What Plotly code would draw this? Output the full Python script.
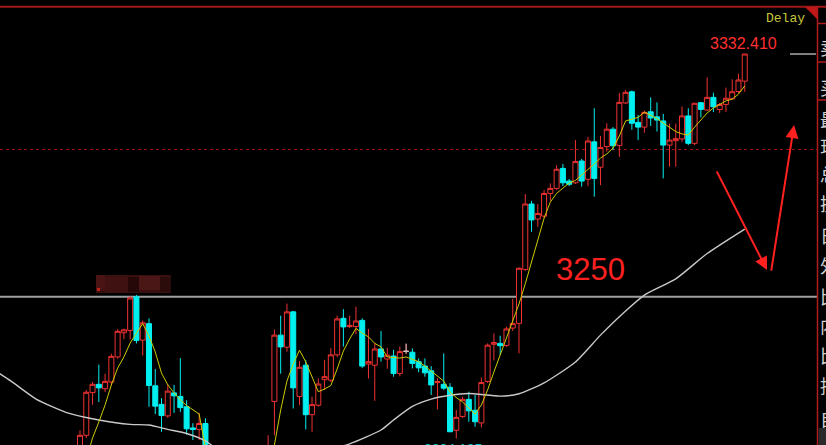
import plotly.graph_objects as go

# ---------------- data ----------------
bar_index = list(range(0, 21)) + list(range(30, 107))

open_ = [3197.3, 3203.0, 3217.5, 3220.3, 3218.8, 3221.1, 3229.6, 3237.8, 3238.6, 3250.0,
         3235.3, 3240.9, 3219.8, 3213.5, 3209.6, 3217.4, 3216.2, 3212.7, 3205.5, 3205.0,
         3207.0,
         3192.9, 3214.5, 3237.0, 3232.9, 3244.9, 3216.2, 3226.8, 3210.0, 3213.2, 3221.9,
         3221.7, 3230.3, 3242.7, 3239.9, 3239.9, 3242.0, 3227.2, 3226.8, 3232.3, 3228.9,
         3229.9, 3224.0, 3231.5, 3231.2, 3228.0, 3226.5, 3224.9, 3220.9, 3220.3, 3219.3,
         3204.7, 3209.4, 3215.2, 3211.5, 3207.2, 3221.3, 3233.9, 3234.2, 3233.5, 3239.4,
         3241.0, 3259.3, 3281.5, 3276.4, 3277.4, 3285.1, 3286.8, 3293.6, 3289.3, 3288.7,
         3296.1, 3289.9, 3302.6, 3294.0, 3301.0, 3306.9, 3301.4, 3315.8, 3319.6, 3309.2,
         3307.6, 3312.8, 3311.1, 3309.7, 3301.5, 3303.0, 3303.6, 3311.4, 3302.1, 3315.9,
         3313.4, 3317.7, 3313.6, 3315.3, 3317.2, 3319.7, 3323.2]
high = [3204.7, 3218.4, 3221.1, 3227.0, 3223.9, 3230.7, 3239.0, 3239.2, 3250.3, 3250.6,
        3242.0, 3242.7, 3225.5, 3215.6, 3220.4, 3220.1, 3229.2, 3214.9, 3207.1, 3210.6,
        3208.8,
        3203.0, 3238.9, 3243.6, 3247.7, 3245.2, 3228.2, 3228.6, 3216.1, 3222.3, 3228.6,
        3232.6, 3243.6, 3245.8, 3243.6, 3246.7, 3242.7, 3239.1, 3234.3, 3238.4, 3232.7,
        3232.0, 3233.1, 3234.1, 3232.5, 3229.1, 3229.1, 3226.5, 3222.4, 3230.8, 3220.7,
        3211.6, 3216.1, 3217.8, 3216.7, 3222.6, 3234.2, 3237.6, 3236.8, 3239.9, 3249.3,
        3260.0, 3284.9, 3282.6, 3281.5, 3286.3, 3288.5, 3294.7, 3295.1, 3290.0, 3303.2,
        3296.8, 3304.3, 3314.0, 3304.6, 3308.9, 3307.6, 3319.2, 3320.2, 3320.0, 3311.7,
        3313.2, 3317.7, 3316.0, 3312.1, 3308.8, 3308.8, 3314.6, 3314.0, 3315.8, 3316.1,
        3324.5, 3319.3, 3315.8, 3321.0, 3323.8, 3325.7, 3332.41]
low = [3196.3, 3202.1, 3213.4, 3214.3, 3217.7, 3220.0, 3229.0, 3235.6, 3235.6, 3234.2,
       3230.1, 3212.7, 3210.2, 3204.2, 3208.9, 3210.6, 3210.9, 3203.2, 3201.4, 3201.4,
       3196.3,
       3191.2, 3203.0, 3223.9, 3231.4, 3212.1, 3213.3, 3205.0, 3204.2, 3212.7, 3218.4,
       3221.1, 3229.6, 3233.1, 3239.4, 3237.4, 3225.8, 3222.3, 3214.7, 3228.0, 3225.6,
       3222.9, 3223.0, 3230.7, 3225.7, 3224.4, 3222.9, 3216.7, 3211.8, 3218.4, 3204.1,
       3201.9, 3208.9, 3207.6, 3205.9, 3205.7, 3220.8, 3228.4, 3230.3, 3233.0, 3238.4,
       3230.8, 3258.8, 3272.1, 3273.8, 3276.7, 3282.6, 3286.3, 3287.6, 3287.6, 3288.3,
       3287.4, 3287.6, 3284.0, 3287.9, 3299.3, 3299.8, 3297.5, 3315.4, 3306.7, 3303.2,
       3305.7, 3308.0, 3306.1, 3290.2, 3294.2, 3294.2, 3302.6, 3301.5, 3301.5, 3310.9,
       3313.2, 3312.7, 3312.4, 3312.8, 3316.8, 3319.2, 3319.6]
close = [3203.0, 3217.6, 3220.3, 3219.1, 3221.3, 3229.8, 3238.3, 3238.8, 3249.6, 3235.2,
         3241.2, 3219.9, 3212.9, 3209.7, 3218.0, 3216.4, 3212.4, 3205.2, 3205.0, 3207.0,
         3198.0,
         3198.7, 3237.0, 3233.0, 3244.9, 3219.1, 3226.1, 3210.0, 3213.4, 3220.4, 3222.9,
         3230.3, 3242.5, 3239.8, 3240.3, 3241.8, 3226.5, 3228.0, 3232.3, 3229.6, 3230.2,
         3224.0, 3231.4, 3231.5, 3227.4, 3225.9, 3224.2, 3220.1, 3221.2, 3219.0, 3204.2,
         3209.1, 3215.2, 3211.3, 3207.6, 3220.9, 3233.6, 3234.5, 3233.4, 3239.1, 3240.9,
         3259.7, 3281.5, 3276.1, 3278.3, 3285.1, 3286.8, 3293.3, 3288.7, 3288.2, 3295.9,
         3289.3, 3302.9, 3290.2, 3300.7, 3306.9, 3301.3, 3316.0, 3319.4, 3308.9, 3307.6,
         3312.6, 3310.7, 3310.0, 3301.5, 3303.2, 3303.7, 3311.4, 3302.1, 3315.7, 3313.6,
         3317.7, 3314.5, 3315.3, 3317.4, 3319.6, 3323.6, 3332.41]

# one flat (doji) bar drawn in grey
doji_index = [52]
doji_open = [3231.5]
doji_high = [3234.1]
doji_low = [3230.7]
doji_close = [3231.5]

# short moving average (yellow)
ma_short_index = list(range(1, 22)) + list(range(30, 107))
ma_short = [3194.6, 3202.1, 3207.5, 3213.3, 3220.1, 3225.8, 3229.6, 3234.3, 3237.7, 3240.9,
            3236.7, 3231.3, 3224.1, 3220.1, 3217.4, 3215.0, 3213.1, 3211.6, 3210.2, 3198.7,
            3193.0,
            3193.0, 3199.7, 3211.6, 3221.4, 3227.2, 3231.9, 3227.9, 3223.1, 3217.8, 3218.7,
            3219.9, 3225.5, 3231.6, 3235.7, 3239.3, 3237.7, 3236.4, 3234.2, 3233.0, 3229.6,
            3229.4, 3229.2, 3229.6, 3228.9, 3228.0, 3226.5, 3224.8, 3222.8, 3221.4, 3217.7,
            3215.8, 3214.3, 3212.3, 3210.2, 3213.3, 3218.4, 3224.5, 3230.3, 3236.0, 3241.5,
            3247.6, 3254.4, 3261.8, 3269.3, 3276.7, 3282.2, 3285.1, 3286.9, 3288.6, 3289.5,
            3291.3, 3293.4, 3295.1, 3297.1, 3298.5, 3300.5, 3304.6, 3309.7, 3310.2, 3310.9,
            3312.7, 3311.7, 3310.5, 3309.0, 3307.6, 3306.1, 3305.3, 3304.9, 3307.6, 3310.0,
            3312.4, 3314.1, 3315.4, 3316.5, 3317.1, 3318.8, 3321.6]

# long moving average (white), read at selected bars
ma_long_index = [-13, -11, -7, -2, 3, 8, 11, 14, 17, 20, 22, 30, 38, 43, 48, 50, 53, 56, 59,
                 62, 67, 70, 74, 79, 83, 87, 90, 95, 100, 106]
ma_long = [3224.2, 3221.4, 3215.3, 3210.6, 3208.2, 3206.7, 3206.5, 3205.0, 3203.6, 3201.1,
           3198.3, 3195.3, 3197.3, 3200.1, 3204.8, 3208.2, 3212.8, 3215.3, 3216.6,
           3217.2, 3216.3, 3217.1, 3220.8, 3227.9, 3237.0, 3245.2, 3250.6, 3256.1, 3264.7,
           3273.0]

last_price = 3332.41
low_price_label = "3204.125"
level_dashed = 3300
level_support = 3250
level_text = "3250"
side_labels = ["卖", "买", "最", "现", "总", "换", "日", "外", "比", "内", "比", "持", "自"]

# ---------------- layout geometry (pixels) ----------------
W, H = 826, 445
PL, PR, PT, PB = 0, 817, 8, 445          # plot area in page pixels
X_RANGE = [-12.757, 117.52]
Y_RANGE = [3199.71, 3348.03]


def px(X):
    return (X - PL) / (PR - PL)


def py(Y):
    return (PB - Y) / (PB - PT)


RED = "#f03232"
CYAN = "#00f0f0"

fig = go.Figure()

fig.add_trace(go.Candlestick(
    x=bar_index, open=open_, high=high, low=low, close=close,
    increasing=dict(line=dict(color=RED, width=1), fillcolor="#000000"),
    decreasing=dict(line=dict(color=CYAN, width=1), fillcolor=CYAN),
    whiskerwidth=0, showlegend=False, hoverinfo="skip"))

fig.add_trace(go.Candlestick(
    x=doji_index, open=doji_open, high=doji_high, low=doji_low, close=doji_close,
    increasing=dict(line=dict(color="#c8c8c8", width=1), fillcolor="#c8c8c8"),
    decreasing=dict(line=dict(color="#c8c8c8", width=1), fillcolor="#c8c8c8"),
    whiskerwidth=0, showlegend=False, hoverinfo="skip"))

fig.add_trace(go.Scatter(x=ma_long_index, y=ma_long, mode="lines",
                         line=dict(color="#c8c8c8", width=1.4, shape="spline", smoothing=0.6),
                         showlegend=False, hoverinfo="skip"))
fig.add_trace(go.Scatter(x=ma_short_index, y=ma_short, mode="lines",
                         line=dict(color="#cccc00", width=1),
                         showlegend=False, hoverinfo="skip"))

shapes = []
# horizontal levels
shapes.append(dict(type="line", xref="paper", yref="y", x0=0, x1=1, y0=level_dashed, y1=level_dashed,
                   line=dict(color="#990e0e", width=1.2, dash="3px,3px"), layer="below"))
shapes.append(dict(type="line", xref="paper", yref="y", x0=0, x1=1, y0=level_support, y1=level_support,
                   line=dict(color="#a0a0a0", width=2), layer="below"))
# last price tick
shapes.append(dict(type="line", xref="paper", yref="y", x0=px(790), x1=px(816), y0=last_price, y1=last_price,
                   line=dict(color="#ffffff", width=1)))
# frame lines
shapes.append(dict(type="line", xref="paper", yref="paper", x0=0, x1=px(W), y0=py(6.7), y1=py(6.7),
                   line=dict(color="#a01818", width=2)))
shapes.append(dict(type="line", xref="paper", yref="paper", x0=px(817.5), x1=px(817.5), y0=py(H), y1=py(6),
                   line=dict(color="#b01c1c", width=1.5)))
for yy in [23.5, 62, 100]:
    shapes.append(dict(type="line", xref="paper", yref="paper", x0=px(817.5), x1=px(W), y0=py(yy), y1=py(yy),
                       line=dict(color="#b01c1c", width=1.5)))
# corner triangle
shapes.append(dict(type="path", xref="paper", yref="paper",
                   path=f"M {px(805)},{py(7)} L {px(817)},{py(7)} L {px(817)},{py(19)} Z",
                   fillcolor="#c01818", line=dict(width=0)))
# censored (mosaic) label
mosaic = [((96, 275), (171, 293), "#3a0f0f"), ((96, 275), (105, 290), "#4a1414"),
          ((105, 277), (128, 293), "#3f1111"), ((128, 277), (139, 292), "#260808"),
          ((139, 276), (160, 290), "#4b1616"), ((160, 277), (171, 292), "#2c0b0b"),
          ((97, 288), (100, 291), "#c02020")]
for (x0, y0), (x1, y1), col in mosaic:
    shapes.append(dict(type="rect", xref="paper", yref="paper", x0=px(x0), x1=px(x1), y0=py(y1), y1=py(y0),
                       fillcolor=col, line=dict(width=0)))
# grey box at the bottom of side panel
shapes.append(dict(type="rect", xref="paper", yref="paper", x0=px(818.5), x1=px(W), y0=py(445), y1=py(428),
                   fillcolor="#2a2a2a", line=dict(width=0)))

annotations = [
    dict(text="Delay", xref="paper", yref="paper", x=px(764), y=py(18.5), xanchor="left", yanchor="middle",
         showarrow=False, font=dict(family="Liberation Mono", size=13, color="#c8c83c")),
    dict(text=f"{last_price:.3f}", xref="paper", yref="paper", x=px(743.5), y=py(44), xanchor="center",
         yanchor="middle", showarrow=False, font=dict(family="Liberation Sans", size=16, color="#ff3030")),
    dict(text=level_text, xref="paper", yref="paper", x=px(590.5), y=py(269.5), xanchor="center",
         yanchor="middle", showarrow=False, font=dict(family="Liberation Sans", size=31, color="#ff2020")),
    dict(text=low_price_label, xref="paper", yref="paper", x=px(422), y=py(439), xanchor="left",
         yanchor="top", showarrow=False, font=dict(family="Liberation Sans", size=14, color="#00c8c8")),
    # hand-drawn arrows
    dict(text="", x=109.55, y=3259.1, xref="x", yref="y", ax=-51, ay=-100, showarrow=True,
         arrowhead=2, arrowsize=1.3, arrowwidth=2, arrowcolor="#ff2020", standoff=0),
    dict(text="", x=113.86, y=3308.3, xref="x", yref="y", ax=-23, ay=147, showarrow=True,
         arrowhead=2, arrowsize=1.3, arrowwidth=2, arrowcolor="#ff2020", standoff=0),
]
side_y = [47, 87, 119, 146, 174, 203, 235, 265, 296, 325, 355, 385, 418]
for ch, yy in zip(side_labels, side_y):
    annotations.append(dict(text=ch, xref="paper", yref="paper", x=px(818), y=py(yy), xanchor="left",
                            yanchor="middle", showarrow=False,
                            font=dict(family="Noto Sans CJK SC", size=18, color="#d0d0d0")))

fig.update_layout(
    width=W, height=H,
    margin=dict(l=PL, r=W - PR, t=PT, b=H - PB, pad=0),
    paper_bgcolor="#000000", plot_bgcolor="#000000",
    boxgap=0.2, boxgroupgap=0,
    xaxis=dict(range=X_RANGE, showgrid=False, zeroline=False, showticklabels=False, showline=False,
               rangeslider=dict(visible=False), fixedrange=True),
    yaxis=dict(range=Y_RANGE, showgrid=False, zeroline=False, showticklabels=False, showline=False,
               fixedrange=True),
    shapes=shapes, annotations=annotations, showlegend=False,
)

fig.write_html("out.html", config={"displayModeBar": False},
               post_script="document.body.style.margin='0';document.body.style.overflow='hidden';"
                           "document.body.style.background='#000';")
